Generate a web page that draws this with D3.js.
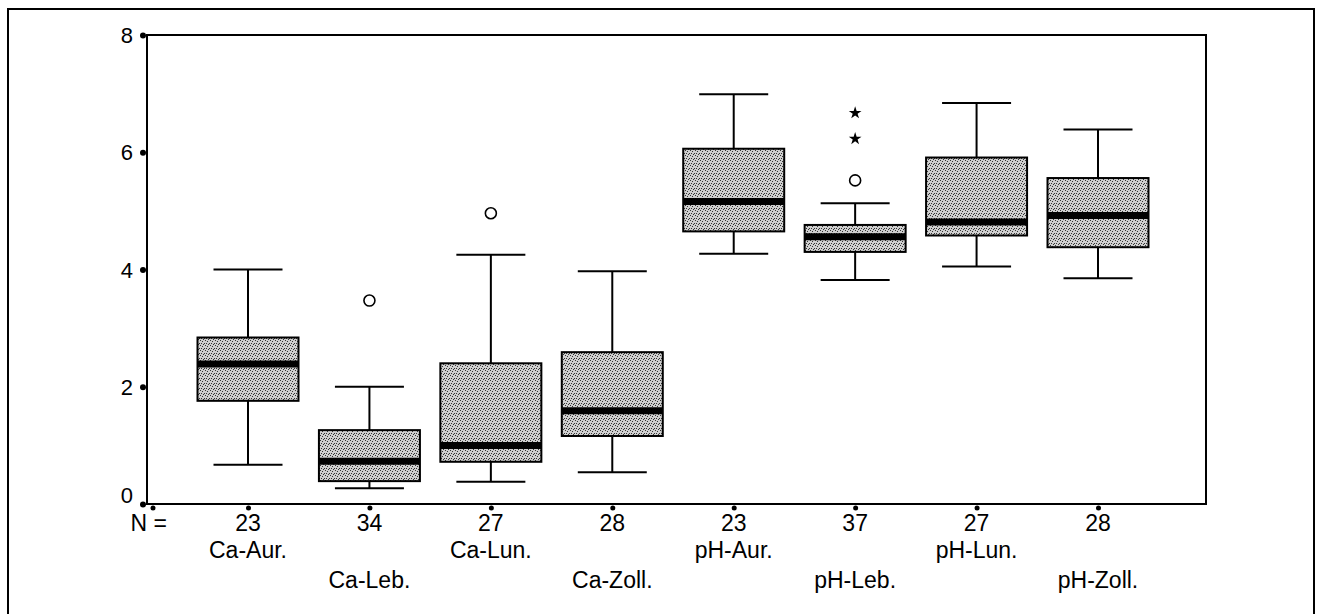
<!DOCTYPE html>
<html>
<head>
<meta charset="utf-8">
<script src="https://cdn.jsdelivr.net/npm/d3@7"></script>
<style>
    body { margin: 0; background: white; }
    svg { display: block; }
    text { font-family: "Liberation Sans", Arial, sans-serif; fill: black; }
</style>
</head>
<body>
<svg id="chart" width="1320" height="614"></svg>
<script>
// Values
const categories = ['Ca-Aur.', 'Ca-Leb.', 'Ca-Lun.', 'Ca-Zoll.', 'pH-Aur.', 'pH-Leb.', 'pH-Lun.', 'pH-Zoll.'];
const nValues = [23, 34, 27, 28, 23, 37, 27, 28];
const whiskerLow = [0.67, 0.27, 0.38, 0.54, 4.27, 3.82, 4.05, 3.85];
const q1 = [1.76, 0.39, 0.72, 1.16, 4.65, 4.30, 4.58, 4.38];
const medians = [2.39, 0.73, 1.00, 1.59, 5.16, 4.56, 4.81, 4.92];
const q3 = [2.84, 1.26, 2.40, 2.59, 6.06, 4.76, 5.91, 5.56];
const whiskerHigh = [4.00, 2.00, 4.25, 3.97, 6.99, 5.13, 6.84, 6.39];
const outlierCats = ['Ca-Leb.', 'Ca-Lun.', 'pH-Leb.'];
const outlierValues = [3.47, 4.96, 5.52];
const extremeCats = ['pH-Leb.', 'pH-Leb.'];
const extremeValues = [6.67, 6.23];
const yTicks = [0, 2, 4, 6, 8];

const svg = d3.select('#chart');

// plot box edges
const plotLeft = 147, plotRight = 1206, plotTop = 35, plotBottom = 504;

const x = d3.scalePoint().domain(categories).range([248, 1098]);
const y = d3.scaleLinear().domain([0, 8]).range([plotBottom, plotTop]);

const boxWidth = 101;
const capWidth = 69;

// stippled grey fill for the boxes
const defs = svg.append('defs');
const pat = defs.append('pattern')
    .attr('id', 'stipple')
    .attr('patternUnits', 'userSpaceOnUse')
    .attr('width', 5).attr('height', 5);
pat.append('rect').attr('width', 5).attr('height', 5).attr('fill', '#cfcfcf');
[[0, 0], [2, 1], [4, 3], [1, 3], [3, 4]].forEach(p => {
    pat.append('rect').attr('x', p[0]).attr('y', p[1])
        .attr('width', 1).attr('height', 1).attr('fill', '#333');
});

// outer frame (runs off the bottom of the page)
svg.append('rect')
    .attr('x', 8).attr('y', 9)
    .attr('width', 1306).attr('height', 640)
    .attr('fill', 'none').attr('stroke', 'black').attr('stroke-width', 2);

// plot frame
svg.append('rect')
    .attr('x', plotLeft).attr('y', plotTop)
    .attr('width', plotRight - plotLeft).attr('height', plotBottom - plotTop)
    .attr('fill', 'none').attr('stroke', 'black').attr('stroke-width', 2);

// y axis: dots + labels
const yAxis = d3.axisLeft(y).tickValues(yTicks).tickSize(0).tickPadding(14);
const yG = svg.append('g').attr('transform', `translate(${plotLeft},0)`).call(yAxis);
yG.select('.domain').remove();
yG.selectAll('text')
    .style('font-size', '22px')
    .style('font-family', '"Liberation Sans", Arial, sans-serif')
    .attr('dy', d => d === 0 ? '-0.05em' : '0.35em');
yG.selectAll('.tick').append('circle')
    .attr('cx', -4).attr('cy', 0).attr('r', 3).attr('fill', 'black');

// x axis: dots below the axis line
const xAxis = d3.axisBottom(x).tickSize(0).tickFormat('');
const xG = svg.append('g').attr('transform', `translate(0,${plotBottom})`).call(xAxis);
xG.select('.domain').remove();
xG.selectAll('.tick').append('circle')
    .attr('cx', 0).attr('cy', 4).attr('r', 2.5).attr('fill', 'black');
svg.append('circle').attr('cx', 153).attr('cy', plotBottom + 4).attr('r', 2.5).attr('fill', 'black');

// N = row and category labels
svg.append('text')
    .attr('x', 167).attr('y', 531)
    .attr('text-anchor', 'end')
    .style('font-size', '23px')
    .text('N =');

categories.forEach((cat, i) => {
    svg.append('text')
        .attr('x', x(cat)).attr('y', 531)
        .attr('text-anchor', 'middle')
        .style('font-size', '23px')
        .text(nValues[i]);
    svg.append('text')
        .attr('x', x(cat)).attr('y', i % 2 === 0 ? 558 : 588)
        .attr('text-anchor', 'middle')
        .style('font-size', '23px')
        .text(cat);
});

// boxes
categories.forEach((cat, i) => {
    const cx = x(cat);
    const g = svg.append('g');

    // whiskers
    g.append('line')
        .attr('x1', cx).attr('x2', cx)
        .attr('y1', y(whiskerHigh[i])).attr('y2', y(q3[i]))
        .attr('stroke', 'black').attr('stroke-width', 2);
    g.append('line')
        .attr('x1', cx).attr('x2', cx)
        .attr('y1', y(q1[i])).attr('y2', y(whiskerLow[i]))
        .attr('stroke', 'black').attr('stroke-width', 2);
    [whiskerHigh[i], whiskerLow[i]].forEach(v => {
        g.append('line')
            .attr('x1', cx - capWidth / 2).attr('x2', cx + capWidth / 2)
            .attr('y1', y(v)).attr('y2', y(v))
            .attr('stroke', 'black').attr('stroke-width', 2);
    });

    // box
    g.append('rect')
        .attr('x', cx - boxWidth / 2).attr('y', y(q3[i]))
        .attr('width', boxWidth).attr('height', y(q1[i]) - y(q3[i]))
        .attr('fill', 'url(#stipple)')
        .attr('stroke', 'black').attr('stroke-width', 2);

    // median
    g.append('line')
        .attr('x1', cx - boxWidth / 2).attr('x2', cx + boxWidth / 2)
        .attr('y1', y(medians[i])).attr('y2', y(medians[i]))
        .attr('stroke', 'black').attr('stroke-width', 7);
});

// outliers (open circles)
outlierCats.forEach((cat, i) => {
    svg.append('circle')
        .attr('cx', x(cat)).attr('cy', y(outlierValues[i]))
        .attr('r', 5.5)
        .attr('fill', 'white').attr('stroke', 'black').attr('stroke-width', 1.6);
});

// extremes (asterisks)
extremeCats.forEach((cat, i) => {
    svg.append('path')
        .attr('d', d3.symbol().type(d3.symbolStar).size(50)())
        .attr('transform', `translate(${x(cat)},${y(extremeValues[i])})`)
        .attr('fill', 'black');
});
</script>
</body>
</html>
